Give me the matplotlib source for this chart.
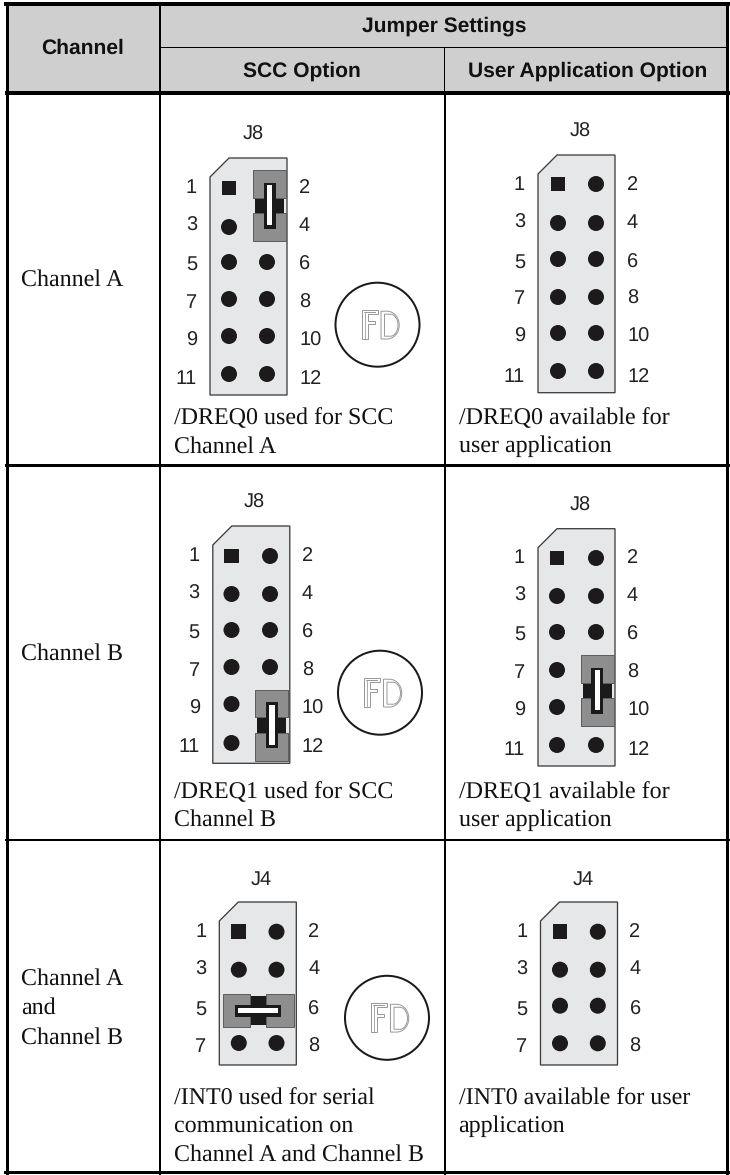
import numpy as np
import matplotlib
matplotlib.use("Agg")
import matplotlib.pyplot as plt
from matplotlib.patches import Polygon, Rectangle, Circle

# table text
header_channel = "Channel"
header_jumper = "Jumper Settings"
header_options = ["SCC Option", "User Application Option"]
channel_names = ["Channel A", "Channel B", "Channel A\nand\nChannel B"]
captions_scc = ["/DREQ0 used for SCC\nChannel A", "/DREQ1 used for SCC\nChannel B",
                "/INT0 used for serial\ncommunication on\nChannel A and Channel B"]
captions_user = ["/DREQ0 available for\nuser application", "/DREQ1 available for\nuser application",
                 "/INT0 available for user\napplication"]
connectors = ["J8", "J8", "J4"]

SANS = "Liberation Sans"
SERIF = "Liberation Serif"
GRAY_HEAD = "#cfcfcf"
BOX_FILL = "#e6e7e8"
BOX_EDGE = "#3c3c3c"
PIN = "#1c1a1b"
PX = 0.72  # one pixel in points at dpi 100

plt.rcParams["text.hinting"] = "no_hinting"
plt.rcParams["text.hinting_factor"] = 1

fig = plt.figure(figsize=(7.3, 11.75), dpi=100)
ax = fig.add_axes([0, 0, 1, 1])
ax.set_xlim(0, 730)
ax.set_ylim(1175, 0)
ax.axis("off")


def hline(y, x0, x1, w):
    ax.add_patch(Rectangle((x0, y - w / 2), x1 - x0, w, fc="black", ec="none", zorder=5))


def vline(x, y0, y1, w):
    ax.add_patch(Rectangle((x - w / 2, y0), w, y1 - y0, fc="black", ec="none", zorder=5))


def rect(x0, y0, x1, y1, fc, ec="none", lw=0, z=3):
    ax.add_patch(Rectangle((x0, y0), x1 - x0, y1 - y0, fc=fc, ec=ec, lw=lw, zorder=z))


def jumper(cx, cy, horizontal=False):
    # drawn for the vertical case, swapped when it lies flat
    def r(x0, y0, x1, y1, fc, ec="none", lw=0, z=3):
        if horizontal:
            rect(cx + y0, cy + x0, cx + y1, cy + x1, fc, ec, lw, z)
        else:
            rect(cx + x0, cy + y0, cx + x1, cy + y1, fc, ec, lw, z)
    r(-14.5, -8, 14.5, 8, "#1a1a1a", z=3)
    r(-16.5, -35.5, 16.5, -8, "#8e8e8e", "#5e5e5e", 1 * PX, 4)
    r(-16.5, 7.5, 16.5, 35.5, "#8e8e8e", "#5e5e5e", 1 * PX, 4)
    r(-6, -23, 6, 23, "#1a1a1a", z=5)
    r(-2.8, -20.5, 2.8, 19.5, "white", z=6)


def fd_logo(cx, cy, r=42):
    ax.add_patch(Circle((cx, cy), r, fc="white", ec="#1a1a1a", lw=2 * PX, zorder=3))
    c = "#9a9a9a"
    f_outer = [(-16, -15), (0, -15), (0, -11), (-10, -11), (-10, -4), (-3, -4), (-3, -1),
               (-10, -1), (-10, 14), (-16, 14)]
    f_inner = [(-14, -13), (-3, -13), (-13, -13), (-13, 14)]
    ax.add_patch(Polygon([(cx + x, cy + y) for x, y in f_outer], fc="none", ec=c, lw=1 * PX, zorder=4))
    ax.plot([cx + x for x, y in f_inner], [cy + y for x, y in f_inner], color=c, lw=0.8 * PX, zorder=4)
    for x0, rx, ry, top, bot in [(3.5, 18, 14.2, -13.5, 14.3), (7, 11, 11, -10.5, 11.5)]:
        t = np.linspace(-np.pi / 2, np.pi / 2, 40)
        mid = (top + bot) / 2
        xs = x0 + 6 + rx * 0.68 * np.cos(t)
        ys = mid + (bot - top) / 2 * np.sin(t)
        pts = [(cx + x0, cy + top)] + [(cx + a, cy + b) for a, b in zip(xs, ys)] + [(cx + x0, cy + bot)]
        ax.add_patch(Polygon(pts, fc="none", ec=c, lw=1 * PX, zorder=4))


def header_box(name, left, top, bottom, name_x, name_y, cols, rows, label_rows, pin_labels,
               skip=(), jump=None, logo=None):
    right = left + 77
    outline = [(left, top + 19), (left + 19, top), (right, top), (right, bottom), (left, bottom)]
    ax.add_patch(Polygon(outline, fc=BOX_FILL, ec=BOX_EDGE, lw=1.3 * PX, zorder=2))
    ax.text(name_x, name_y, name, family=SANS, fontsize=14.5, ha="center", va="center", color="#222222")
    for i, y in enumerate(rows):
        for j, x in enumerate(cols):
            n = 2 * i + j + 1
            if n in skip:
                continue
            if n == 1:
                rect(x - 7.4, y - 7.4, x + 7.4, y + 7.4, PIN, z=3)
            else:
                ax.add_patch(Circle((x, y), 8, fc=PIN, ec="none", zorder=3))
    n_rows = len(rows)
    for i in range(n_rows):
        ax.text(left - 13, label_rows[i], pin_labels[2 * i], family=SANS, fontsize=14.5, ha="right",
                va="center", color="#222222")
        ax.text(right + 12, label_rows[i], pin_labels[2 * i + 1], family=SANS, fontsize=14.5, ha="left",
                va="center", color="#222222")
    if jump is not None:
        jumper(*jump)
    if logo is not None:
        fd_logo(*logo)


# header band
rect(7, 6, 727, 91, GRAY_HEAD, z=1)

# table rules
hline(4, 4, 730, 4.5)
hline(93, 5, 730, 4)
hline(47.3, 160, 727, 1.3)
hline(465.7, 5, 730, 2.5)
hline(839.8, 5, 730, 2.5)
hline(1172.7, 4, 730, 3.5)
vline(7, 2, 1175, 3)
vline(727.8, 6, 1175, 2.8)
vline(160, 6, 91, 1.3)
vline(160, 95, 1175, 2)
vline(444.5, 47, 91, 1.3)
vline(444.5, 95, 1175, 2)

# header text
head = dict(family=SANS, fontweight="bold", fontsize=15.3, ha="center", va="center", color="#111111")
ax.text(83, 48.5, header_channel, **head)
ax.text(444.6, 26.5, header_jumper, **head)
ax.text(301.7, 71.5, header_options[0], **head)
ax.text(587.5, 71.5, header_options[1], **head)

# body text
body = dict(family=SERIF, fontsize=17.2, ha="left", va="center", color="#111111", linespacing=1.0)


def lines(x, ys, text):
    for y, t in zip(ys, text.split("\n")):
        ax.text(x, y, t, **body)


lines(21, [280], channel_names[0])
lines(21, [654], channel_names[1])
lines(21, [978.5, 1008, 1037.5], channel_names[2])
lines(173.6, [418, 446.5], captions_scc[0])
lines(173.6, [792.5, 820], captions_scc[1])
lines(173.6, [1098.5, 1126.5, 1154.5], captions_scc[2])
lines(458.6, [418, 446.5], captions_user[0])
lines(458.6, [792.5, 820], captions_user[1])
lines(458.6, [1098.5, 1126.5], captions_user[2])

labels12 = [str(i) for i in range(1, 13)]
labels8 = labels12[:8]

# channel A
header_box(connectors[0], 210, 158, 395, 253, 135, [229, 267], [188, 227, 262, 299, 336, 374],
           [188, 226, 265, 303, 341, 379], labels12, skip=(2, 4), jump=(269.5, 205.5), logo=(377.5, 324.7))
header_box(connectors[0], 538, 155, 392.7, 580.5, 132, [558, 596], [184, 223, 259, 297, 333, 371],
           [185, 223, 263, 299, 337, 377], labels12)

# channel B
header_box(connectors[1], 212.8, 526, 763.3, 254.7, 503, [231.5, 270], [556, 594, 630, 667, 704, 743],
           [556, 594, 633, 671, 709, 747], labels12, skip=(10, 12), jump=(271.8, 725), logo=(380, 692.7))
header_box(connectors[1], 538, 528.7, 766, 580.5, 505.7, [557, 596], [558, 596, 632, 670, 707, 745],
           [558, 596, 635, 673, 711, 750], labels12, skip=(8, 10), jump=(597.3, 690.7))

# channel A and B
header_box(connectors[2], 219.3, 902, 1065, 261, 879.3, [238.8, 276.5], [931.7, 969.7, 1006, 1043],
           [931.7, 969.3, 1009.3, 1046.7], labels8, skip=(5, 6), jump=(258, 1010.5, True), logo=(387, 1017.8))
header_box(connectors[2], 540.5, 902, 1065, 583, 879.3, [560, 597.8], [931.7, 969.7, 1005.7, 1043.3],
           [931.7, 969.3, 1009.3, 1046.7], labels8)

fig.savefig("out.png", dpi=100, facecolor="white")
